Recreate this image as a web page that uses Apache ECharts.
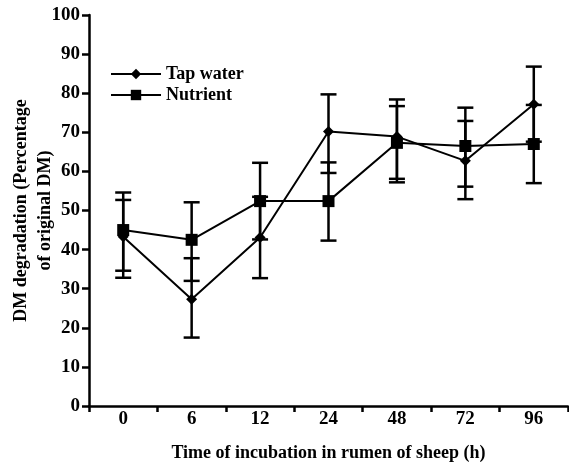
<!DOCTYPE html>
<html>
<head>
<meta charset="utf-8">
<script src="https://cdn.jsdelivr.net/npm/echarts@6/dist/echarts.min.js"></script>
<style>
  html, body { margin: 0; padding: 0; background: #fff; }
  #chart { width: 569px; height: 469px; }
</style>
</head>
<body>
<div id="chart"></div>
<script>
const hours = ['0', '6', '12', '24', '48', '72', '96']

// means and error bar ends (low, high)
const tapWater = [43.3, 27.3, 43.1, 70.2, 68.9, 62.7, 77.2]
const tapLow = [32.8, 17.5, 32.7, 59.6, 58.1, 52.9, 67.6]
const tapHigh = [52.7, 37.8, 53.5, 79.7, 78.4, 72.9, 86.8]

const nutrient = [45.0, 42.5, 52.4, 52.4, 67.3, 66.5, 67.0]
const nutLow = [34.6, 32.0, 42.6, 42.3, 57.2, 56.1, 57.0]
const nutHigh = [54.6, 52.1, 62.2, 62.3, 76.7, 76.3, 77.0]

const yTicks = [0, 10, 20, 30, 40, 50, 60, 70, 80, 90, 100]

const FONT = 'Liberation Serif'

const chart = echarts.init(document.getElementById('chart'))

function errorSeries(low, high) {
  return {
    type: 'custom',
    silent: true,
    z: 1,
    data: hours.map((h, i) => [i, low[i], high[i]]),
    renderItem: (params, api) => {
      const x = api.value(0)
      const lo = api.coord([x, api.value(1)])
      const hi = api.coord([x, api.value(2)])
      const w = 8
      const style = { stroke: '#000', lineWidth: 2.5 }
      return {
        type: 'group',
        children: [
          { type: 'line', shape: { x1: lo[0], y1: lo[1], x2: hi[0], y2: hi[1] }, style },
          { type: 'line', shape: { x1: lo[0] - w, y1: lo[1], x2: lo[0] + w, y2: lo[1] }, style },
          { type: 'line', shape: { x1: hi[0] - w, y1: hi[1], x2: hi[0] + w, y2: hi[1] }, style },
        ],
      }
    },
  }
}

const option = {
  animation: false,
  textStyle: { fontFamily: FONT },
  grid: { left: 89, right: 1, top: 15, bottom: 63, containLabel: false, outerBoundsMode: 'none' },
  legend: {
    left: 110,
    top: 65,
    padding: 0,
    orient: 'vertical',
    itemWidth: 50,
    itemHeight: 13,
    itemGap: 3,
    textStyle: { fontFamily: FONT, fontWeight: 'bold', fontSize: 18, color: '#000' },
    data: ['Tap water', 'Nutrient'],
  },
  xAxis: {
    type: 'category',
    data: hours,
    boundaryGap: true,
    name: 'Time of incubation in rumen of sheep (h)',
    nameLocation: 'middle',
    nameGap: 38,
    nameMoveOverlap: false,
    nameTextStyle: { fontFamily: FONT, fontWeight: 'bold', fontSize: 18, color: '#000' },
    axisLine: { lineStyle: { color: '#000', width: 2.5 } },
    axisTick: { show: true, length: 6, inside: false, lineStyle: { color: '#000', width: 2.5 } },
    axisLabel: { fontFamily: FONT, fontWeight: 'bold', fontSize: 19, color: '#000', margin: 4 },
  },
  yAxis: {
    type: 'value',
    min: yTicks[0],
    max: yTicks[yTicks.length - 1],
    interval: 10,
    name: 'DM degradation (Percentage\nof original DM)',
    nameLocation: 'middle',
    nameGap: 32,
    nameMoveOverlap: false,
    nameTextStyle: { fontFamily: FONT, fontWeight: 'bold', fontSize: 18, color: '#000', lineHeight: 24 },
    axisLine: { show: true, lineStyle: { color: '#000', width: 2.5 } },
    axisTick: { show: true, length: 7, lineStyle: { color: '#000', width: 2.5 } },
    axisLabel: { fontFamily: FONT, fontWeight: 'bold', fontSize: 19, color: '#000', margin: 9 },
    splitLine: { show: false },
  },
  series: [
    errorSeries(tapLow, tapHigh),
    errorSeries(nutLow, nutHigh),
    {
      name: 'Tap water',
      type: 'line',
      data: tapWater,
      symbol: 'diamond',
      symbolSize: 11,
      z: 3,
      lineStyle: { color: '#000', width: 2 },
      itemStyle: { color: '#000' },
    },
    {
      name: 'Nutrient',
      type: 'line',
      data: nutrient,
      symbol: 'rect',
      symbolSize: 12,
      z: 3,
      lineStyle: { color: '#000', width: 2 },
      itemStyle: { color: '#000' },
    },
  ],
}

chart.setOption(option)
</script>
</body>
</html>
